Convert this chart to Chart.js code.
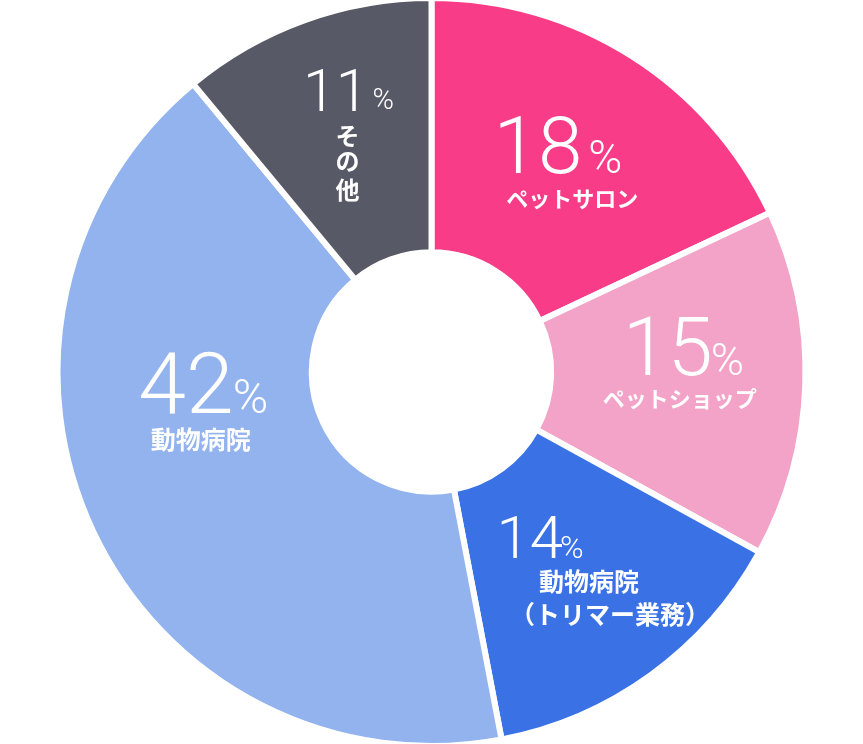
<!DOCTYPE html>
<html lang="ja">
<head>
<meta charset="utf-8">
<title>業種別構成比</title>
<script src="https://cdn.jsdelivr.net/npm/chart.js@4.4.1/dist/chart.umd.min.js"></script>
<style>
  html, body { margin: 0; padding: 0; background: #fff; }
  canvas { display: block; }
</style>
</head>
<body>
<canvas id="chart" width="863" height="744"></canvas>
<script>
// データ
const categories = ["ペットサロン", "ペットショップ", "動物病院（トリマー業務）", "動物病院", "その他"];
const captionLines = [["ペットサロン"], ["ペットショップ"], ["動物病院", "（トリマー業務）"], ["動物病院"], ["そ", "の", "他"]];
const shares = [18, 15, 14, 42, 11];

const colors = ["#F93C88", "#F2A3C7", "#3A72E5", "#92B3EE", "#575A66"];

// ラベルの配置 (各セグメント中心からのずれ)
// num: [右端x, ベースラインy, サイズ], pct: [左端x, ベースラインy, サイズ], cap: [[中心x, 中心y, サイズ], ...]
const labelLayout = [
  { num: [18.5, 9, 80], pct: [24.5, 9, 46], cap: [[8.5, 35, 22]] },
  { num: [34.5, -5, 81], pct: [32.5, -5, 45], cap: [[1.5, 19, 22]] },
  { num: [-13.5, -14, 60], pct: [-16.5, -14, 32], cap: [[12.5, 10, 25], [33.5, 43, 25]] },
  { num: [25.5, -64, 86], pct: [24.5, -64, 48], cap: [[-7.5, -38, 25]] },
  { num: [20.5, -29, 59], pct: [24.5, -31, 29], cap: [[-0.5, -4, 24], [-0.5, 21, 24], [-0.5, 50, 24]] }
];

const labelPlugin = {
  id: "segmentLabels",
  afterDatasetsDraw(chart) {
    const ctx = chart.ctx;
    const arcs = chart.getDatasetMeta(0).data;
    ctx.save();
    ctx.fillStyle = "#fff";
    arcs.forEach((arc, i) => {
      const p = arc.getCenterPoint();
      const L = labelLayout[i];
      // 数字
      ctx.font = `300 ${L.num[2]}px Roboto`;
      ctx.textAlign = "right";
      ctx.textBaseline = "alphabetic";
      ctx.fillText(String(shares[i]), p.x + L.num[0], p.y + L.num[1]);
      ctx.font = `300 ${L.pct[2]}px Roboto`;
      ctx.textAlign = "left";
      ctx.fillText("%", p.x + L.pct[0], p.y + L.pct[1]);
      // 項目名
      ctx.textAlign = "center";
      ctx.textBaseline = "middle";
      captionLines[i].forEach((line, j) => {
        const c = L.cap[j];
        ctx.font = `bold ${c[2]}px "Noto Sans CJK JP"`;
        ctx.fillText(line, p.x + c[0], p.y + c[1]);
      });
    });
    ctx.restore();
  }
};

new Chart(document.getElementById("chart"), {
  type: "doughnut",
  data: {
    labels: categories,
    datasets: [{
      data: shares,
      backgroundColor: colors,
      borderColor: "#ffffff",
      borderWidth: 6
    }]
  },
  options: {
    responsive: false,
    animation: false,
    radius: 374,
    cutout: "32%",
    plugins: {
      legend: { display: false },
      tooltip: { enabled: false }
    }
  },
  plugins: [labelPlugin]
});
</script>
</body>
</html>
